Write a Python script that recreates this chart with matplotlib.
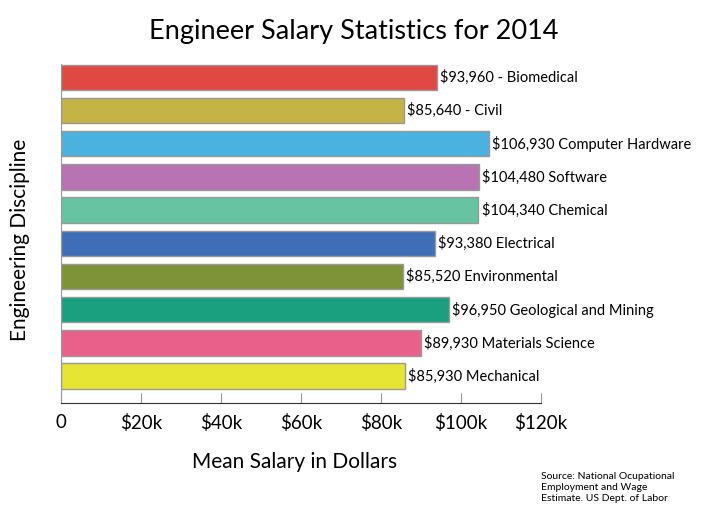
import matplotlib.pyplot as plt

plt.rcParams['font.family'] = ['Lato', 'DejaVu Sans']

disciplines = ["Biomedical", "Civil", "Computer Hardware", "Software", "Chemical",
               "Electrical", "Environmental", "Geological and Mining",
               "Materials Science", "Mechanical"]
salaries = [93960, 85640, 106930, 104480, 104340, 93380, 85520, 96950, 89930, 85930]
separators = [" - ", " - ", " ", " ", " ", " ", " ", " ", " ", " "]
colors = ["#e04844", "#c4b444", "#4bb1df", "#b873b2", "#66c4a2", "#3f6db8",
          "#7e9238", "#1aa07e", "#e9618a", "#e6e533"]
tick_vals = [0, 20000, 40000, 60000, 80000, 100000, 120000]
tick_labels = ["0", "$20k", "$40k", "$60k", "$80k", "$100k", "$120k"]

fig = plt.figure(figsize=(7.08, 5.17), dpi=100)
ax = fig.add_axes([61/708, 1 - 403/517, 480/708, (403 - 64)/517])

ypos = list(range(len(salaries)))
ax.barh(ypos, salaries, height=0.76, color=colors, edgecolor="#999999", linewidth=1)
for y, s, sep, d in zip(ypos, salaries, separators, disciplines):
    ax.text(s + 800, y, f"${s:,}{sep}{d}", va="center", ha="left", fontsize=10.5)

ax.set_ylim(len(salaries) - 1 + 0.81, -0.4)
ax.set_xlim(0, 120000)
ax.set_xticks(tick_vals)
ax.set_xticklabels(tick_labels, fontsize=13.5)
ax.set_yticks([])
ax.tick_params(axis="x", direction="in", length=7, color="#999999", pad=8)
for side in ["top", "right"]:
    ax.spines[side].set_visible(False)
ax.spines["left"].set_color("#999999")
ax.spines["bottom"].set_color("#333333")

fig.text(0.5, 0.925, "Engineer Salary Statistics for 2014", ha="center", fontsize=19.5)
fig.text(295/708, 1 - 462/517, "Mean Salary in Dollars", ha="center", va="center", fontsize=15)
fig.text(20/708, 1 - 240/517, "Engineering Discipline", ha="center", va="center",
         rotation=90, fontsize=15)
fig.text(541/708, 1 - 472/517,
         "Source: National Ocupational\nEmployment and Wage\nEstimate. US Dept. of Labor",
         ha="left", va="top", fontsize=7.5, linespacing=1.3)

fig.savefig("out.png", dpi=100)
